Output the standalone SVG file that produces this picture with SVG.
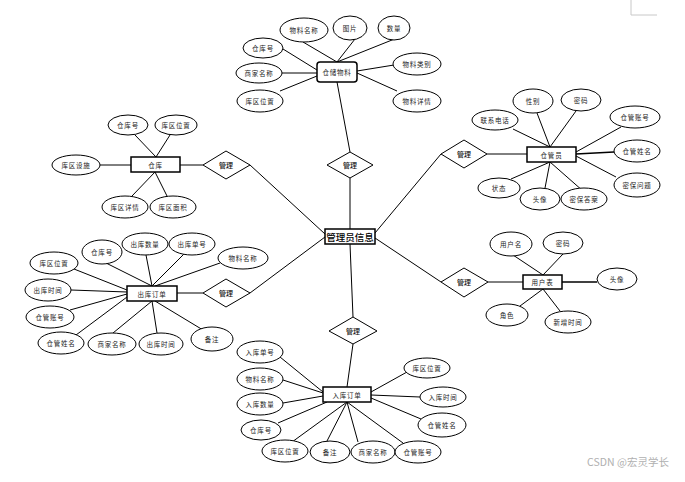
<svg xmlns="http://www.w3.org/2000/svg" width="685" height="482" viewBox="0 0 685 482">
<style>
.e{fill:#fff;stroke:#000;stroke-width:1}
.r{fill:#fff;stroke:#000;stroke-width:1.5}
.d{fill:#fff;stroke:#000;stroke-width:1}
.l line{stroke:#000;stroke-width:1}
.t{font-family:"Noto Sans CJK SC","Noto Sans",sans-serif;font-size:6.5px;text-anchor:middle;dominant-baseline:central;fill:#222;letter-spacing:0.8px}
.k{font-family:"Noto Sans CJK SC","Noto Sans",sans-serif;font-size:7px;text-anchor:middle;dominant-baseline:central;fill:#111;font-weight:500}
.c{font-family:"Noto Sans CJK SC","Noto Sans",sans-serif;font-size:9.5px;text-anchor:middle;dominant-baseline:central;fill:#000;font-weight:500}
</style>
<rect width="685" height="482" fill="#fff"/>
<path d="M631 0V15H657" fill="none" stroke="#c8c8c8" stroke-width="1"/>
<g id="connectors" class="l">
<line x1="337" y1="62" x2="303" y2="42"/>
<line x1="337" y1="62" x2="355" y2="39"/>
<line x1="337" y1="62" x2="397" y2="38"/>
<line x1="317" y1="70" x2="283" y2="49"/>
<line x1="317" y1="73" x2="282" y2="73"/>
<line x1="317" y1="76" x2="280" y2="91"/>
<line x1="357" y1="71" x2="394" y2="65"/>
<line x1="357" y1="73" x2="397" y2="91"/>
<line x1="337" y1="82" x2="350" y2="152"/>
<line x1="350" y1="178" x2="350" y2="229"/>
<line x1="156" y1="157" x2="135" y2="135"/>
<line x1="156" y1="157" x2="170" y2="135"/>
<line x1="131" y1="165" x2="100" y2="165"/>
<line x1="180" y1="165" x2="203" y2="165"/>
<line x1="155" y1="172" x2="132" y2="196"/>
<line x1="155" y1="172" x2="167" y2="196"/>
<line x1="250" y1="165" x2="325" y2="234"/>
<line x1="441" y1="154" x2="375" y2="233"/>
<line x1="487" y1="154" x2="527" y2="154"/>
<line x1="550" y1="147" x2="513" y2="129"/>
<line x1="550" y1="147" x2="537" y2="113"/>
<line x1="550" y1="147" x2="576" y2="111"/>
<line x1="576" y1="152" x2="621" y2="127"/>
<line x1="576" y1="154" x2="614" y2="152" style="stroke-width:1.6"/>
<line x1="576" y1="156" x2="616" y2="177"/>
<line x1="550" y1="162" x2="511" y2="179"/>
<line x1="550" y1="162" x2="545" y2="188"/>
<line x1="550" y1="162" x2="583" y2="191"/>
<line x1="441" y1="282" x2="375" y2="238"/>
<line x1="488" y1="282" x2="523" y2="282"/>
<line x1="562" y1="282" x2="597" y2="282" style="stroke-width:1.6"/>
<line x1="543" y1="275" x2="513" y2="255"/>
<line x1="543" y1="275" x2="563" y2="254"/>
<line x1="543" y1="289" x2="520" y2="306"/>
<line x1="543" y1="289" x2="560" y2="311"/>
<line x1="250" y1="293" x2="325" y2="237"/>
<line x1="177" y1="293" x2="203" y2="293"/>
<line x1="127" y1="290" x2="74" y2="269"/>
<line x1="152" y1="286" x2="106" y2="263"/>
<line x1="152" y1="286" x2="146" y2="255"/>
<line x1="152" y1="286" x2="185" y2="253"/>
<line x1="155" y1="286" x2="220" y2="263"/>
<line x1="127" y1="292" x2="71" y2="290"/>
<line x1="127" y1="294" x2="70" y2="310"/>
<line x1="127" y1="297" x2="76" y2="335"/>
<line x1="152" y1="301" x2="113" y2="333"/>
<line x1="152" y1="301" x2="157" y2="333"/>
<line x1="155" y1="301" x2="203" y2="330"/>
<line x1="350" y1="244" x2="353" y2="317"/>
<line x1="353" y1="344" x2="347" y2="387"/>
<line x1="323" y1="392" x2="280" y2="357"/>
<line x1="323" y1="393" x2="283" y2="380"/>
<line x1="323" y1="396" x2="283" y2="403"/>
<line x1="327" y1="402" x2="278" y2="423"/>
<line x1="347" y1="402" x2="292" y2="442"/>
<line x1="347" y1="402" x2="327" y2="441"/>
<line x1="347" y1="402" x2="358" y2="442"/>
<line x1="347" y1="402" x2="403" y2="443"/>
<line x1="371" y1="392" x2="407" y2="372"/>
<line x1="371" y1="395" x2="420" y2="397"/>
<line x1="371" y1="398" x2="421" y2="419"/>
</g>
<g id="admin"><rect class="r" x="325" y="229" width="50" height="15"/><text class="c" x="350" y="236.5">管理员信息</text></g>
<g id="rel-top"><polygon class="d" points="327,165 350,152 373,165 350,178"/><text class="k" x="350" y="165">管理</text></g>
<g id="rel-ck"><polygon class="d" points="203,165 226,151 250,165 226,179"/><text class="k" x="226" y="165">管理</text></g>
<g id="rel-cgy"><polygon class="d" points="441,154 464,140 487,154 464,168"/><text class="k" x="464" y="154">管理</text></g>
<g id="rel-yh"><polygon class="d" points="441,282 464,268 488,282 464,297"/><text class="k" x="464" y="282">管理</text></g>
<g id="rel-out"><polygon class="d" points="203,293 226,279 250,293 226,307"/><text class="k" x="226" y="293">管理</text></g>
<g id="rel-in"><polygon class="d" points="329,331 353,317 377,331 353,344"/><text class="k" x="353" y="331">管理</text></g>

<g id="ccwl"><rect class="r" x="317" y="62" width="40" height="20" rx="3"/><text class="t" x="337" y="72">仓储物料</text></g>
<g id="ccwl-wlmc"><ellipse class="e" cx="304" cy="30" rx="24" ry="12"/><text class="t" x="304" y="30">物料名称</text></g>
<g id="ccwl-tp"><ellipse class="e" cx="350" cy="28" rx="17" ry="12"/><text class="t" x="350" y="28">图片</text></g>
<g id="ccwl-sl"><ellipse class="e" cx="394" cy="28" rx="16" ry="12"/><text class="t" x="394" y="28">数量</text></g>
<g id="ccwl-ckh"><ellipse class="e" cx="263" cy="48" rx="20" ry="10"/><text class="t" x="263" y="48">仓库号</text></g>
<g id="ccwl-sjmc"><ellipse class="e" cx="259" cy="73" rx="23" ry="10"/><text class="t" x="259" y="73">商家名称</text></g>
<g id="ccwl-kqwz"><ellipse class="e" cx="260" cy="101" rx="23" ry="11"/><text class="t" x="260" y="101">库区位置</text></g>
<g id="ccwl-wllb"><ellipse class="e" cx="417" cy="64" rx="24" ry="11"/><text class="t" x="417" y="64">物料类别</text></g>
<g id="ccwl-wlxq"><ellipse class="e" cx="417" cy="101" rx="24" ry="11"/><text class="t" x="417" y="101">物料详情</text></g>

<g id="ck"><rect class="r" x="131" y="157" width="49" height="15"/><text class="t" x="155.5" y="164.5">仓库</text></g>
<g id="ck-ckh"><ellipse class="e" cx="128" cy="125" rx="20" ry="10"/><text class="t" x="128" y="125">仓库号</text></g>
<g id="ck-kqwz"><ellipse class="e" cx="176" cy="125" rx="21" ry="10"/><text class="t" x="176" y="125">库区位置</text></g>
<g id="ck-kqss"><ellipse class="e" cx="76" cy="165" rx="24" ry="10"/><text class="t" x="76" y="165">库区设施</text></g>
<g id="ck-kqxq"><ellipse class="e" cx="125" cy="207" rx="23" ry="11"/><text class="t" x="125" y="207">库区详情</text></g>
<g id="ck-kqmj"><ellipse class="e" cx="173" cy="207" rx="23" ry="11"/><text class="t" x="173" y="207">库区面积</text></g>

<g id="cgy"><rect class="r" x="527" y="147" width="49" height="15"/><text class="t" x="551.5" y="154.5">仓管员</text></g>
<g id="cgy-lxdh"><ellipse class="e" cx="495" cy="120" rx="23" ry="10"/><text class="t" x="495" y="120">联系电话</text></g>
<g id="cgy-xb"><ellipse class="e" cx="533" cy="101" rx="20" ry="12"/><text class="t" x="533" y="101">性别</text></g>
<g id="cgy-mm"><ellipse class="e" cx="581" cy="100" rx="20" ry="11"/><text class="t" x="581" y="100">密码</text></g>
<g id="cgy-cgzh"><ellipse class="e" cx="635" cy="117" rx="25" ry="11"/><text class="t" x="635" y="117">仓管账号</text></g>
<g id="cgy-cgxm"><ellipse class="e" cx="637" cy="151" rx="23" ry="11"/><text class="t" x="637" y="151">仓管姓名</text></g>
<g id="cgy-mbwt"><ellipse class="e" cx="637" cy="185" rx="23" ry="12"/><text class="t" x="637" y="185">密保问题</text></g>
<g id="cgy-zt"><ellipse class="e" cx="499" cy="188" rx="21" ry="10"/><text class="t" x="499" y="188">状态</text></g>
<g id="cgy-tx"><ellipse class="e" cx="540" cy="199" rx="20" ry="11"/><text class="t" x="540" y="199">头像</text></g>
<g id="cgy-mbda"><ellipse class="e" cx="584" cy="199" rx="23" ry="11"/><text class="t" x="584" y="199">密保答案</text></g>

<g id="yhb"><rect class="r" x="523" y="275" width="39" height="14"/><text class="t" x="542.5" y="282">用户表</text></g>
<g id="yhb-yhm"><ellipse class="e" cx="511" cy="244" rx="21" ry="12"/><text class="t" x="511" y="244">用户名</text></g>
<g id="yhb-mm"><ellipse class="e" cx="563" cy="243" rx="20" ry="11"/><text class="t" x="563" y="243">密码</text></g>
<g id="yhb-tx"><ellipse class="e" cx="617" cy="279" rx="20" ry="11"/><text class="t" x="617" y="279">头像</text></g>
<g id="yhb-js"><ellipse class="e" cx="507" cy="315" rx="21" ry="11"/><text class="t" x="507" y="315">角色</text></g>
<g id="yhb-xzsj"><ellipse class="e" cx="568" cy="322" rx="23" ry="11"/><text class="t" x="568" y="322">新增时间</text></g>

<g id="ckdd"><rect class="r" x="127" y="286" width="50" height="15"/><text class="t" x="152" y="293.5">出库订单</text></g>
<g id="ckdd-kqwz"><ellipse class="e" cx="54" cy="263" rx="24" ry="11"/><text class="t" x="54" y="263">库区位置</text></g>
<g id="ckdd-ckh"><ellipse class="e" cx="102" cy="252" rx="20" ry="12"/><text class="t" x="102" y="252">仓库号</text></g>
<g id="ckdd-cksl"><ellipse class="e" cx="145" cy="244" rx="23" ry="11"/><text class="t" x="145" y="244">出库数量</text></g>
<g id="ckdd-ckdh"><ellipse class="e" cx="192" cy="244" rx="23" ry="11"/><text class="t" x="192" y="244">出库单号</text></g>
<g id="ckdd-wlmc"><ellipse class="e" cx="243" cy="258" rx="25" ry="11"/><text class="t" x="243" y="258">物料名称</text></g>
<g id="ckdd-cksj1"><ellipse class="e" cx="48" cy="290" rx="23" ry="11"/><text class="t" x="48" y="290">出库时间</text></g>
<g id="ckdd-cgzh"><ellipse class="e" cx="50" cy="317" rx="24" ry="11"/><text class="t" x="50" y="317">仓管账号</text></g>
<g id="ckdd-cgxm"><ellipse class="e" cx="61" cy="343" rx="23" ry="11"/><text class="t" x="61" y="343">仓管姓名</text></g>
<g id="ckdd-sjmc"><ellipse class="e" cx="112" cy="344" rx="24" ry="11"/><text class="t" x="112" y="344">商家名称</text></g>
<g id="ckdd-cksj2"><ellipse class="e" cx="161" cy="344" rx="22" ry="11"/><text class="t" x="161" y="344">出库时间</text></g>
<g id="ckdd-bz"><ellipse class="e" cx="212" cy="339" rx="21" ry="12"/><text class="t" x="212" y="339">备注</text></g>

<g id="rkdd"><rect class="r" x="323" y="387" width="48" height="15"/><text class="t" x="347" y="394.5">入库订单</text></g>
<g id="rkdd-rkdh"><ellipse class="e" cx="260" cy="352" rx="23" ry="11"/><text class="t" x="260" y="352">入库单号</text></g>
<g id="rkdd-wlmc"><ellipse class="e" cx="260" cy="379" rx="23" ry="11"/><text class="t" x="260" y="379">物料名称</text></g>
<g id="rkdd-rksl"><ellipse class="e" cx="260" cy="404" rx="23" ry="11"/><text class="t" x="260" y="404">入库数量</text></g>
<g id="rkdd-ckh"><ellipse class="e" cx="261" cy="430" rx="20" ry="10"/><text class="t" x="261" y="430">仓库号</text></g>
<g id="rkdd-kqwz1"><ellipse class="e" cx="285" cy="451" rx="23" ry="11"/><text class="t" x="285" y="451">库区位置</text></g>
<g id="rkdd-bz"><ellipse class="e" cx="330" cy="452" rx="20" ry="11"/><text class="t" x="330" y="452">备注</text></g>
<g id="rkdd-sjmc"><ellipse class="e" cx="373" cy="452" rx="22" ry="11"/><text class="t" x="373" y="452">商家名称</text></g>
<g id="rkdd-cgzh"><ellipse class="e" cx="418" cy="452" rx="23" ry="11"/><text class="t" x="418" y="452">仓管账号</text></g>
<g id="rkdd-kqwz2"><ellipse class="e" cx="427" cy="368" rx="23" ry="10"/><text class="t" x="427" y="368">库区位置</text></g>
<g id="rkdd-rksj"><ellipse class="e" cx="443" cy="397" rx="23" ry="10"/><text class="t" x="443" y="397">入库时间</text></g>
<g id="rkdd-cgxm"><ellipse class="e" cx="442" cy="425" rx="24" ry="12"/><text class="t" x="442" y="425">仓管姓名</text></g>

<text x="628" y="461" font-family="'Noto Sans CJK SC','Noto Sans',sans-serif" font-size="10.5" fill="#b0b0b0" text-anchor="middle" dominant-baseline="central">CSDN @宏灵学长</text>
</svg>
